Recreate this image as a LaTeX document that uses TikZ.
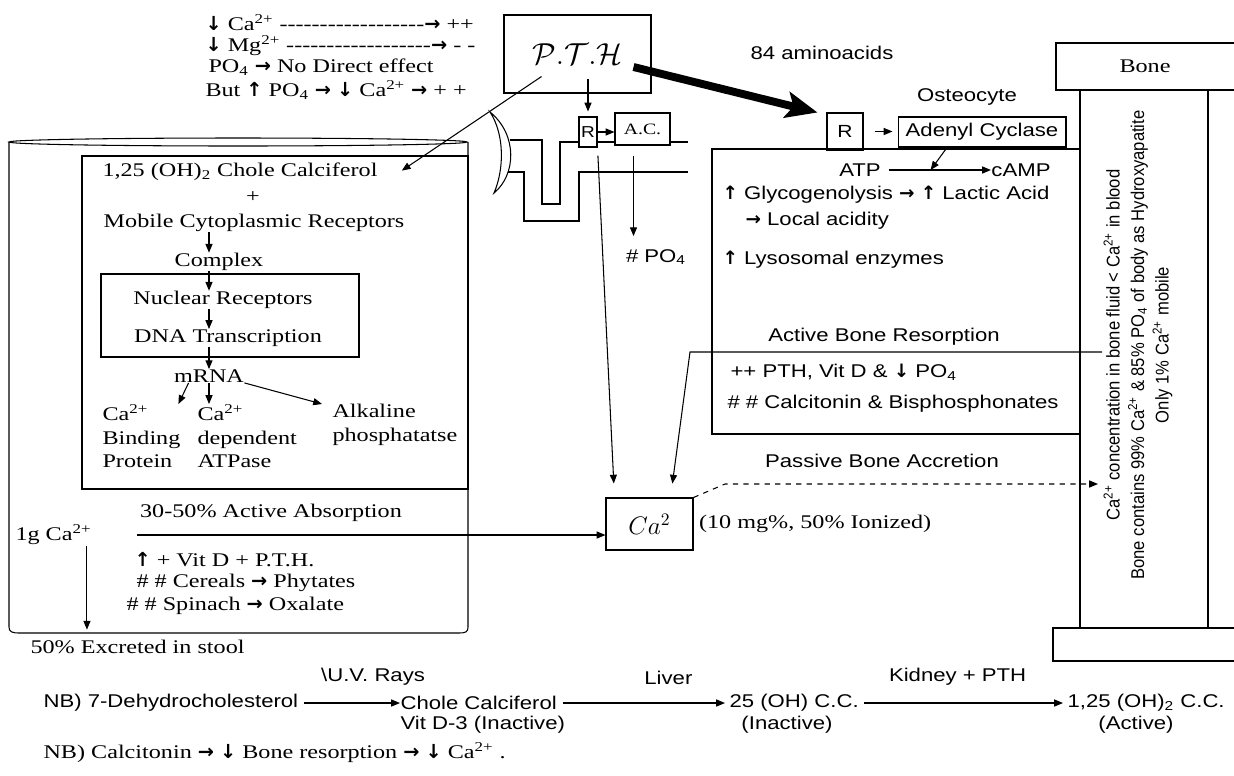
\documentclass[tikz,border=0pt]{standalone}
\usepackage{fontspec}
\setmainfont{Liberation Serif}[FakeStretch=1.25]
\setsansfont{Liberation Sans}[FakeStretch=1.2]
\newfontfamily\bonefont{Liberation Sans}[FakeStretch=0.9]
\newfontfamily\arrowfont{DejaVu Sans}
\usetikzlibrary{positioning,arrows.meta,calc}

\newcommand\arU{{\arrowfont\bfseries ↑}}
\newcommand\arD{{\arrowfont\bfseries ↓}}
\newcommand\arR{{\arrowfont\bfseries →}}
\newcommand\caion{Ca\textsuperscript{2+}}
\newcommand\phos{PO\textsubscript{4}}
\newcommand\dashes[1]{\foreach\k in {1,...,#1}{-\kern0pt}}

\begin{document}
\begin{tikzpicture}[
  x=0.02cm, y=-0.02cm,
  line width=0.6pt,
  serifTxt/.style={font=\fontsize{11}{13.5}\selectfont, inner sep=0pt},
  sansTxt/.style={font=\sffamily\fontsize{10.5}{13}\selectfont, inner sep=0pt},
  boxed/.style={draw, fill=white, inner sep=0pt},
  arr/.style={-{Triangle[length=5pt,width=4pt]}},
  bigarr/.style={-{Stealth[length=18pt,width=15pt,inset=4pt]}, line width=4.5pt}
]
\useasboundingbox (0,0) rectangle (1234,775);

% Hormone and the notes beside it
\node[boxed, minimum width=2.94cm, minimum height=1.56cm, font=\LARGE] (pth) at (577.5,54) {$\mathcal{P}.\mathcal{T}.\mathcal{H}$};
\node[serifTxt, anchor=west] (lowCa) at (205,23) {\arD{} \caion{} \dashes{18}\arR{} ++};
\node[serifTxt, anchor=west] (lowMg) at (205,46) {\arD{} Mg\textsuperscript{2+} \dashes{18}\arR{} -\kern0pt\ -};
\node[serifTxt, anchor=west] (phosNote) at (208,67) {\phos{} \arR{} No Direct effect};
\node[serifTxt, anchor=west] (butNote) at (205,90) {But \arU{} \phos{} \arR{} \arD{} \caion{} \arR{} + +};
\node[sansTxt] (amino) at (822,53) {84 aminoacids};

% Gut wall: cylinder, enterocyte and nucleus
\draw (238,142) ellipse [x radius=4.58cm, y radius=0.08cm];
\draw (9,142) -- (9,627) .. controls (9,632) and (12,633) .. (20,633) -- (458,633)
      .. controls (466,633) and (468,632) .. (468,627) -- (468,142);
\draw (82,156) rectangle (468,489);
\draw (101,274) rectangle (359,357);

\node[serifTxt] (calcitriol) at (240,172) {1,25 (OH)\textsubscript{2} Chole Calciferol};
\node[serifTxt] (plus) at (253,197) {+};
\node[serifTxt] (mobile) at (254,223) {Mobile Cytoplasmic Receptors};
\node[serifTxt] (complex) at (219,262) {Complex};
\node[serifTxt] (nuclear) at (223,300) {Nuclear Receptors};
\node[serifTxt] (dna) at (228,338) {DNA Transcription};
\node[serifTxt] (mrna) at (209,376) {mRNA};
\node[serifTxt, anchor=north west, align=left] (cabp) at (102,404) {\caion\\Binding\\Protein};
\node[serifTxt, anchor=north west, align=left] (atpase) at (197,404) {\caion\\dependent\\ATPase};
\node[serifTxt, anchor=north west, align=left] (alkp) at (332,404) {Alkaline\\phosphatatse};

\draw[arr] (mobile.south -| mrna) -- (complex.north -| mrna);
\draw[arr] (complex.south -| mrna) -- (nuclear.north -| mrna);
\draw[arr] (nuclear.south -| mrna) -- (dna.north -| mrna);
\draw[arr] (dna.south -| mrna) -- (mrna.north);
\draw[arr] ([xshift=0.3cm]mrna.south west) -- ([xshift=-0.05cm]cabp.north east);
\draw[arr] (mrna.south) -- (mrna.south |- atpase.north);
\draw[arr] (mrna.south east) -- ([xshift=-0.2cm]alkp.north west);

\node[serifTxt] (absorb) at (271,513) {30-50\% Active Absorption};
\node[serifTxt, anchor=west] (gca) at (15,535) {1g \caion};
\node[serifTxt, anchor=west] (enh) at (134,560) {\arU{} + Vit D + P.T.H.};
\node[serifTxt, anchor=west] (cereal) at (136,583) {\# \# Cereals \arR{} Phytates};
\node[serifTxt, anchor=west] (spinach) at (126,606) {\# \# Spinach \arR{} Oxalate};
\node[serifTxt, anchor=west] (stool) at (30,647) {50\% Excreted in stool};

% Membrane with receptor and pit
\draw (510,140) -- (542,140) -- (542,204) -- (560,204) -- (560,142) -- (688,142);
\draw (508,172) -- (524,172) -- (524,221) -- (579,221) -- (579,172) -- (688,172);
\draw (490,112) .. controls (518,135) and (516,175) .. (494,193)
      .. controls (504,170) and (505,135) .. (490,112) -- cycle;
\node[boxed, minimum width=0.36cm, minimum height=0.6cm, font=\sffamily\small] (rMem) at (588,132) {R};
\node[boxed, minimum width=1.1cm, minimum height=0.64cm, font=\small] (acMem) at (642.5,129) {A.C.};
\node[sansTxt] (po4) at (656,257) {\# \phos};

\draw[arr] (rMem.east) -- (rMem.east -| acMem.west);
\draw[arr] ([yshift=0.3cm]pth.south -| rMem.north) -- ([yshift=0.1cm]rMem.north);
\draw[arr] ([xshift=-0.72cm,yshift=0.34cm]pth.south) -- ([xshift=-0.06cm,yshift=-0.16cm]mobile.north east |- calcitriol.north east);
\draw[arr, shorten <=0.2cm, shorten >=0.25cm] ([xshift=-0.18cm]acMem.south) -- ([xshift=-0.18cm]acMem.south |- po4.north);

% Osteocyte
\node[sansTxt] (osteo) at (967,97) {Osteocyte};
\node[boxed, minimum width=0.72cm, minimum height=0.74cm, font=\sffamily] (rOst) at (845,131.5) {R};
\node[boxed, minimum width=3.36cm, minimum height=0.6cm, font=\sffamily\fontsize{10.5}{13}\selectfont] (acOst) at (982,132) {Adenyl Cyclase};
\draw (1080,149) -- (712,149) -- (712,434) -- (1080,434);
\draw[arr, shorten <=0.22cm, shorten >=0.1cm] (rOst.east) -- (rOst.east -| acOst.west);
\draw[bigarr] ([xshift=-0.36cm,yshift=-0.26cm]pth.east) -- ([xshift=-0.18cm]rOst.north west);

\node[sansTxt] (atp) at (860,170) {ATP};
\node[sansTxt] (camp) at (1021,170) {cAMP};
\draw[arr] ([xshift=0.15cm]atp.east) -- (camp.west);
\draw[arr] ([xshift=-0.7cm]acOst.south) -- ($(atp.east)!0.45!(camp.west)$);
\node[sansTxt, anchor=west] (glyco) at (722,195) {\arU{} Glycogenolysis \arR{} \arU{} Lactic Acid};
\node[sansTxt, anchor=west] (acidity) at (745,221) {\arR{} Local acidity};
\node[sansTxt, anchor=west] (lyso) at (722,260) {\arU{} Lysosomal enzymes};
\node[sansTxt] (resorb) at (884,337) {Active Bone Resorption};
\node[sansTxt, anchor=west] (promote) at (730,372) {++ PTH, Vit D \& \arD{} \phos};
\node[sansTxt, anchor=west] (inhibit) at (727,404) {\# \# Calcitonin \& Bisphosphonates};

% Plasma calcium
\node[boxed, minimum width=1.74cm, minimum height=1.04cm, font=\Large] (caBox) at (649.5,524) {$Ca^{2}$};
\node[serifTxt, right=0.1cm of caBox] (plasma) {(10 mg\%, 50\% Ionized)};
\node[sansTxt] (accrete) at (882,461) {Passive Bone Accretion};
\coordinate (resIn) at (1102,352);
\coordinate (resKnee) at (690,352);
\coordinate (accKnee) at (725,484);
\coordinate (accIn) at (1098,484);

\draw[arr, shorten >=0.28cm] (resIn) -- (resKnee) -- ([xshift=-0.46cm]caBox.north east);
\draw[arr, shorten <=0.16cm, shorten >=0.28cm] (rMem.south east) -- ([xshift=0.18cm]caBox.north west);
\draw[arr, dashed] (caBox.north east) -- (accKnee) -- (accIn);
\draw[arr, shorten <=0.9cm] (gca.east) -- (gca.east -| caBox.west);
\draw[arr] ([xshift=-0.1cm]gca.south east) -- ([xshift=-0.1cm,yshift=0.2cm]gca.south east |- stool.north);

% Bone
\draw (1240,43) -- (1056,43) -- (1056,90) -- (1240,90);
\draw (1080,90) -- (1080,628);
\draw (1208,90) -- (1208,628);
\draw (1240,628) -- (1053,628) -- (1053,661) -- (1240,661);
\node[serifTxt] (bone) at (1145,66) {Bone};
\node[rotate=90, align=center, inner sep=0pt, font=\bonefont\fontsize{10.5}{14}\selectfont] (boneNote) at (1138,345)
  {\caion{} concentration in bone fluid < \caion{} in blood\\
   Bone contains 99\% \caion{} \& 85\% \phos{} of body as Hydroxyapatite\\
   Only 1\% \caion{} mobile};

% Vitamin D activation
\node[sansTxt, anchor=west] (dehydro) at (43,703) {NB) 7-Dehydrocholesterol};
\node[sansTxt, anchor=west] (chole) at (400,703) {Chole Calciferol};
\node[sansTxt, anchor=west] (vitd3) at (400,725) {Vit D-3 (Inactive)};
\node[sansTxt, anchor=west] (ohcc) at (729,703) {25 (OH) C.C.};
\node[sansTxt] (ohccNote) at (787,725) {(Inactive)};
\node[sansTxt, anchor=west] (activeD) at (1067,703) {1,25 (OH)\textsubscript{2} C.C.};
\node[sansTxt] (activeNote) at (1136,725) {(Active)};

\draw[arr] ([xshift=0.1cm]dehydro.east) -- node[sansTxt, above=0.35cm, pos=0.72] (uv) {\textbackslash U.V. Rays} (chole.west);
\draw[arr] ([xshift=0.12cm]chole.east) -- node[sansTxt, above=0.35cm, pos=0.65] (liver) {Liver} ([xshift=-0.08cm]ohcc.west);
\draw[arr] ([xshift=0.1cm]ohcc.east) -- node[sansTxt, above=0.35cm, pos=0.47] (kidney) {Kidney + PTH} ([xshift=-0.08cm]activeD.west);

\node[serifTxt, anchor=west] (calcNote) at (43,753) {NB) Calcitonin \arR{} \arD{} Bone resorption \arR{} \arD{} \caion{} .};

\end{tikzpicture}
\end{document}
